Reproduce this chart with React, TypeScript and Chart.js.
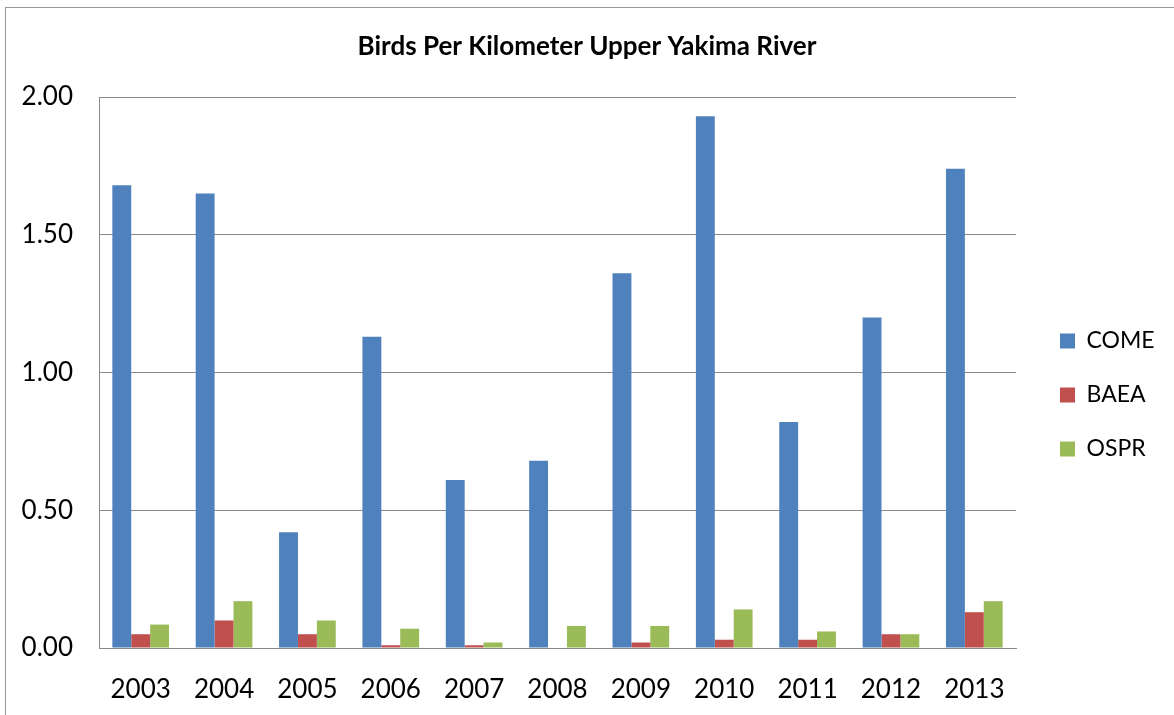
import React, { useEffect, useRef } from "react";
import { Chart, registerables } from "chart.js";

Chart.register(...registerables);

const categories = ["2003", "2004", "2005", "2006", "2007", "2008", "2009", "2010", "2011", "2012", "2013"];
const comeValues = [1.68, 1.65, 0.42, 1.13, 0.61, 0.68, 1.36, 1.93, 0.82, 1.2, 1.74];
const baeaValues = [0.05, 0.1, 0.05, 0.01, 0.01, 0.0, 0.02, 0.03, 0.03, 0.05, 0.13];
const osprValues = [0.085, 0.17, 0.1, 0.07, 0.02, 0.08, 0.08, 0.14, 0.06, 0.05, 0.17];
const seriesNames = ["COME", "BAEA", "OSPR"];
const seriesColors = ["#4F81BD", "#C0504D", "#9BBB59"];
const yTicks = [0, 0.5, 1.0, 1.5, 2.0];
const titleText = "Birds Per Kilometer Upper Yakima River";

const FONT = "Lato, 'Open Sans', sans-serif";
const GRID = "#8a8a8a";

const framePlugin = {
  id: "frame",
  beforeDraw(chart: any) {
    const ctx = chart.ctx;
    ctx.save();
    ctx.fillStyle = "#ffffff";
    ctx.fillRect(0, 0, chart.width, chart.height);
    ctx.strokeStyle = "#9a9a9a";
    ctx.lineWidth = 1;
    ctx.strokeRect(5.5, 7.5, chart.width + 50, chart.height + 50);
    ctx.restore();
  },
};

const legendPlacePlugin = {
  id: "legendPlace",
  beforeLayout(chart: any) {
    const lg = chart.legend;
    if (lg && !lg.__patched) {
      const orig = lg.fit.bind(lg);
      lg.fit = () => {
        orig();
        lg.width = 158;
      };
      lg.__patched = true;
    }
  },
  afterLayout(chart: any) {
    const lg = chart.legend;
    if (!lg) return;
    const dx = 13;
    const dy = 22.5;
    lg.left += dx;
    lg.right += dx;
    lg.top += dy;
    lg.bottom += dy;
  },
};

export default function App() {
  const ref = useRef<HTMLCanvasElement | null>(null);
  useEffect(() => {
    if (!ref.current) return;
    const data = [comeValues, baeaValues, osprValues];
    const chart = new Chart(ref.current, {
      type: "bar",
      data: {
        labels: categories,
        datasets: seriesNames.map((n, i) => ({
          label: n,
          data: data[i],
          backgroundColor: seriesColors[i],
          borderWidth: 0,
          barPercentage: 1,
          categoryPercentage: 0.68,
        })),
      },
      options: {
        responsive: false,
        animation: false,
        layout: { padding: { left: 0, right: 0, top: 0, bottom: 0 } },
        plugins: {
          title: {
            display: true,
            text: titleText,
            color: "#000",
            font: { family: FONT, size: 26, weight: "bold", lineHeight: 1.2 },
            padding: { top: 31.4, bottom: 34.4 },
          },
          legend: {
            display: true,
            position: "right",
            fullSize: false,
            align: "center",
            labels: {
              color: "#000",
              font: { family: FONT, size: 23, lineHeight: 1.2 },
              boxWidth: 15,
              boxHeight: 15,
              padding: 31,
            },
          },
          tooltip: { enabled: false },
        },
        scales: {
          x: {
            grid: { display: false, drawTicks: false },
            border: { display: true, color: GRID, width: 1 },
            ticks: {
              color: "#000",
              font: { family: FONT, size: 26 },
              padding: 26,
              maxRotation: 0,
            },
            afterFit(s: any) {
              s.height = 67;
            },
          },
          y: {
            min: 0,
            max: 2,
            grid: { color: GRID, lineWidth: 1, drawTicks: false },
            border: { display: true, color: GRID, width: 1 },
            afterBuildTicks(s: any) {
              s.ticks = yTicks.map((v) => ({ value: v }));
            },
            ticks: {
              color: "#000",
              font: { family: FONT, size: 26 },
              padding: 26,
              callback: (v: any) => Number(v).toFixed(2),
            },
            afterFit(s: any) {
              s.width = 99;
            },
          },
        },
      },
      plugins: [framePlugin, legendPlacePlugin],
    } as any);
    return () => chart.destroy();
  }, []);
  return (
    <div style={{ position: "absolute", left: 0, top: 0, width: 1174, height: 715, background: "#fff" }}>
      <canvas ref={ref} width={1174} height={715} />
    </div>
  );
}
